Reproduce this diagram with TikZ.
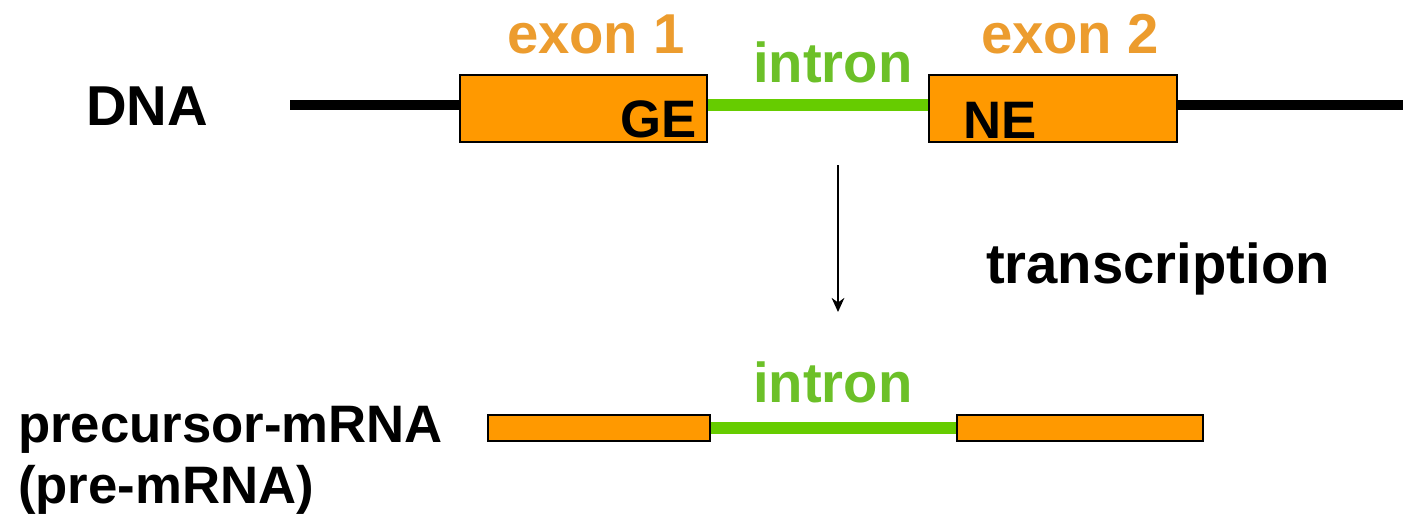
\documentclass[tikz,border=0pt]{standalone}
\usepackage{fontspec}
\setmainfont{Liberation Sans}
\usetikzlibrary{positioning}
\usetikzlibrary{backgrounds}
\usetikzlibrary{arrows.meta}
\definecolor{exonOrange}{RGB}{255,153,0}
\definecolor{exonText}{RGB}{236,156,46}
\definecolor{intronGreen}{RGB}{102,204,0}
\definecolor{intronText}{RGB}{108,192,40}
\tikzset{every picture/.style={semithick}}
\tikzset{exon/.style={draw=black, line width=0.7pt, fill=exonOrange, inner sep=0pt}}
\tikzset{lbl/.style={font=\fontsize{16}{19}\selectfont\bfseries, inner sep=0pt}}
\tikzset{small lbl/.style={font=\fontsize{15}{18}\selectfont\bfseries, inner sep=0pt}}

\begin{document}
\begin{tikzpicture}[>={Stealth[length=4pt,width=3.6pt]}]
            \useasboundingbox (0,0) rectangle (14.03,-5.16);
            % gene on the DNA
            \node[lbl, anchor=base west] (dna) at (0.85,-1.25) {DNA};
            \node[exon, minimum width=2.47cm, minimum height=0.67cm] (ex1) at (5.835,-1.085) {};
            \node[exon, minimum width=2.48cm, minimum height=0.67cm] (ex2) at (10.53,-1.085) {};
            \coordinate (dnal) at (2.9,-1.05);
            \coordinate (dnar) at (14.03,-1.05);
            \begin{scope}[on background layer]
                \draw[line width=2.6pt] (dnal) -- (dnal -| ex1.west);
                \draw[line width=2.6pt] (dnal -| ex2.east) -- (dnar);
                \draw[line width=3.2pt, intronGreen] (dnal -| ex1.east) -- (dnal -| ex2.west);
            \end{scope}
            \node[lbl, anchor=base west, text=exonText] (ex1lbl) at (5.06,-0.53) {exon 1};
            \node[lbl, anchor=base west, text=exonText] (ex2lbl) at (9.80,-0.53) {exon 2};
            \node[lbl, anchor=base west, text=intronText] (inlbl) at (7.52,-0.82) {intron};
            \node[small lbl, anchor=base east] (ge) at (6.98,-1.37) {GE};
            \node[small lbl, anchor=base west] (ne) at (9.62,-1.38) {NE};

            % transcription step
            \coordinate (ts) at (8.38,-1.65);
            \coordinate (te) at (8.38,-3.12);
            \draw[->, line width=0.6pt] (ts) -- (te);
            \node[lbl, anchor=base west] (trans) at (9.85,-2.83) {transcription};

            % pre-mRNA
            \node[exon, minimum width=2.22cm, minimum height=0.26cm] (pre1) at (5.99,-4.28) {};
            \node[exon, minimum width=2.46cm, minimum height=0.26cm] (pre2) at (10.80,-4.28) {};
            \begin{scope}[on background layer]
                \draw[line width=3.2pt, intronGreen] (pre1.east) -- (pre2.west);
            \end{scope}
            \node[lbl, anchor=base west, text=intronText] (inlbl2) at (7.52,-4.02) {intron};
            \node[small lbl, anchor=base west] (pre) at (0.17,-4.42) {precursor-mRNA};
            \node[small lbl, anchor=base west] (preab) at (0.17,-5.03) {(pre-mRNA)};
        \end{tikzpicture}
\end{document}
